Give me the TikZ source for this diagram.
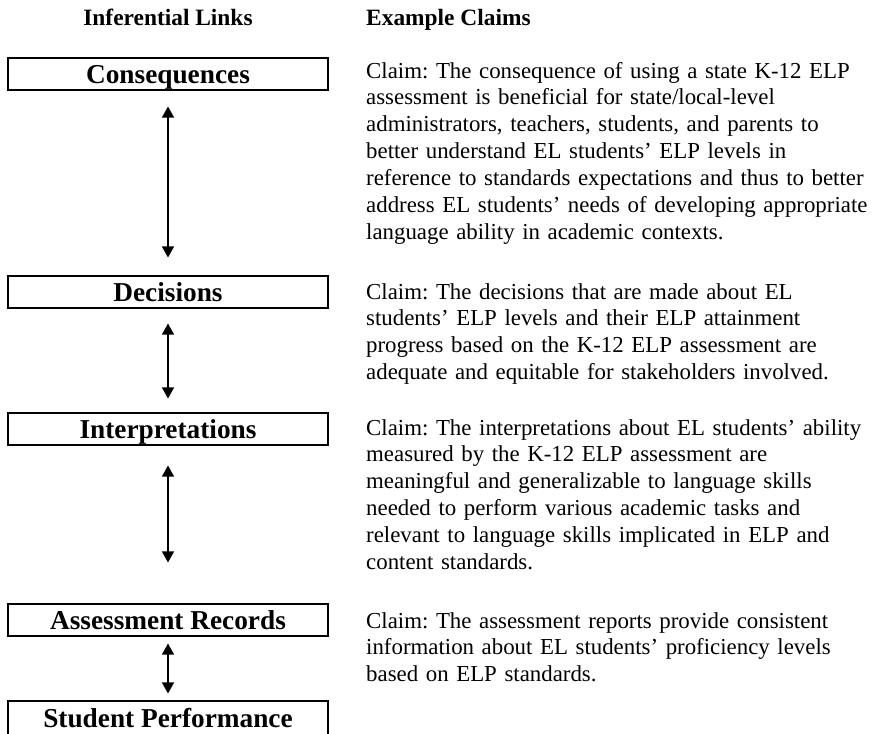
\documentclass[tikz,border=0pt]{standalone}
\usepackage{fontspec}
\setmainfont{Liberation Serif}
\usetikzlibrary{arrows.meta}

\begin{document}
\frenchspacing
\begin{tikzpicture}[x=1pt,y=-1pt,
  linkbox/.style={draw, line width=1.1pt, minimum width=320pt, minimum height=32pt,
    inner sep=0pt, text height=21pt, text depth=3pt,
    font=\fontsize{27.3}{32}\selectfont\bfseries},
  header/.style={anchor=base, inner sep=0pt, font=\fontsize{23.4}{27}\selectfont\bfseries},
  claim/.style={anchor=base west, inner sep=0pt, align=left, text width=600pt,
    font=\fontsize{22.85}{26.9}\selectfont},
  link/.style={line width=1.3pt, {Triangle[width=12pt,length=11pt]}-{Triangle[width=12pt,length=11pt]}}
]
\clip (0,0) rectangle (876,734);

% column headings
\node[header] (headLinks) at (168,25) {Inferential Links};
\node[header, anchor=base west] (headClaims) at (366,25) {Example Claims};

% chain of inferential links
\node[linkbox] (cons)   at (168,74)  {Consequences};
\node[linkbox] (dec)    at (168,292) {Decisions};
\node[linkbox] (interp) at (168,429) {Interpretations};
\node[linkbox] (rec)    at (168,620) {Assessment Records};
\node[linkbox, minimum height=34pt, text height=22pt] (perf) at (168,718) {Student Performance};

% two-way links between neighbouring boxes
\draw[link, shorten <=16pt, shorten >=18pt] (cons) -- (dec);
\draw[link, shorten <=15pt, shorten >=14pt] (dec) -- (interp);
\draw[link, shorten <=20pt, shorten >=41pt] (interp) -- (rec);
\draw[link, shorten <=7pt,  shorten >=7pt]  (rec) -- (perf);

% example claims
\node[claim] (claimCons) at (366,78) {Claim: The consequence of using a state K-12 ELP\\
assessment is beneficial for state/local-level\\
administrators, teachers, students, and parents to\\
better understand EL students’ ELP levels in\\
reference to standards expectations and thus to better\\
address EL students’ needs of developing appropriate\\
language ability in academic contexts.};

\node[claim] (claimDec) at (366,299) {Claim: The decisions that are made about EL\\
students’ ELP levels and their ELP attainment\\
progress based on the K-12 ELP assessment are\\
adequate and equitable for stakeholders involved.};

\node[claim] (claimInt) at (366,435) {Claim: The interpretations about EL students’ ability\\
measured by the K-12 ELP assessment are\\
meaningful and generalizable to language skills\\
needed to perform various academic tasks and\\
relevant to language skills implicated in ELP and\\
content standards.};

\node[claim] (claimRec) at (366,628) {Claim: The assessment reports provide consistent\\
information about EL students’ proficiency levels\\
based on ELP standards.};
\end{tikzpicture}
\end{document}
